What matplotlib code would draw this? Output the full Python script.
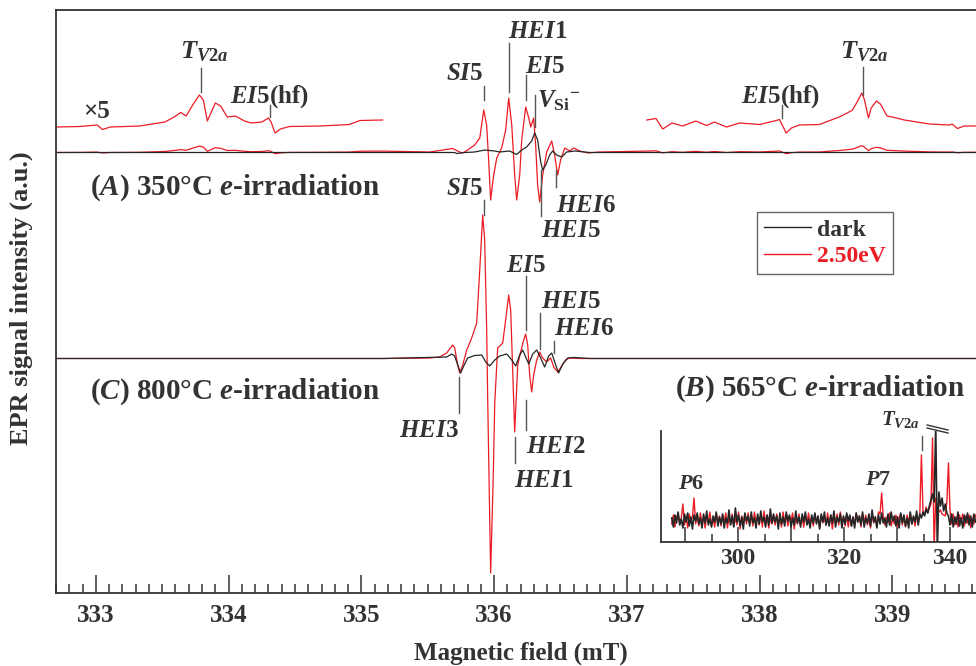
import matplotlib.pyplot as plt
from matplotlib.lines import Line2D
from matplotlib.ticker import MultipleLocator, FixedLocator, FuncFormatter
import numpy as np

plt.rcParams["font.family"] = ["Liberation Serif", "DejaVu Serif"]
plt.rcParams["font.weight"] = "bold"
plt.rcParams["axes.labelweight"] = "bold"
plt.rcParams["mathtext.fontset"] = "custom"
plt.rcParams["mathtext.rm"] = "Liberation Serif:bold"
plt.rcParams["mathtext.it"] = "Liberation Serif:italic:bold"
plt.rcParams["mathtext.bf"] = "Liberation Serif:bold"

RED = "#ec1c24"
BLACK = "#262626"
INK = "#333333"
GUIDE = "#555555"

# ---- (A) 350C, wings shown x5 (values in x5 units) ----
a_left_field = [332.70, 332.88, 333.01, 333.05, 333.11, 333.33, 333.52, 333.59,
                333.64, 333.68, 333.73, 333.78, 333.81, 333.84, 333.87, 333.90,
                333.94, 333.99, 334.05, 334.12, 334.17, 334.25, 334.30, 334.32,
                334.35, 334.39, 334.46, 334.69, 334.91, 334.99, 335.16]
a_left_x5 = [0, 0.5, 2, -2.5, 0, 1, 5, 10,
             14.5, 11, 22, 32, 27, 6, 15, 24,
             21, 10, 11, 6, 4, 5, 9, 5,
             -6, -2, 0.5, 1, 2.5, 6.5, 7]

a_right_field = [337.15, 337.22, 337.27, 337.34, 337.42, 337.52, 337.60, 337.66,
                 337.75, 337.85, 338.00, 338.11, 338.15, 338.20, 338.24, 338.30,
                 338.45, 338.60, 338.66, 338.70, 338.73, 338.77, 338.79, 338.82,
                 338.84, 338.88, 338.91, 338.96, 339.00, 339.09, 339.28, 339.43,
                 339.45, 339.49, 339.54, 339.63]
a_right_x5 = [7, 8.5, -2, 4, 1, 6, 1.5, 5,
              0, 4, 2.5, 6, 7.5, -6, -1, 2,
              2.5, 10, 14, 17, 24, 34, 27, 9,
              19, 26, 23, 11, 10, 7, 3, 2,
              3, -1.5, 1, 1]

# centre of (A), full scale
a_mid_field = [335.515, 335.688, 335.726, 335.756, 335.779, 335.854, 335.892, 335.922,
               335.944, 335.959, 335.974, 335.997, 336.020, 336.057, 336.087, 336.110,
               336.133, 336.155, 336.170, 336.193, 336.208, 336.238, 336.261, 336.276,
               336.298, 336.313, 336.328, 336.343, 336.366, 336.396, 336.434, 336.456,
               336.479, 336.501, 336.532, 336.569, 336.599, 336.645, 336.705, 336.795]
a_mid_light = [0.5, 4, 1.5, -0.5, 0.5, 7.5, 14.5, 42.5,
               27.5, -7.5, -47.5, -22.5, -5.5, 4.5, 22.5, 54.5,
               27.5, -22.5, -47.5, -22.5, 12.5, 45.5, 34.5, 25.5,
               34.5, 7.5, -32.5, -49.5, -22.5, 0.5, 11.5, -2.5,
               -22.5, -7.5, 4.5, 1.5, 4.5, 1.5, -0.5, 0.5]

a_dark_field = [332.70, 335.169, 335.703, 335.718, 335.779, 335.854, 335.929, 336.005,
                336.042, 336.117, 336.170, 336.208, 336.245, 336.283, 336.306, 336.328,
                336.351, 336.366, 336.389, 336.419, 336.441, 336.471, 336.509, 336.547,
                336.607, 336.720, 339.63]
a_dark = [0, 0, 0, -1, 0, 0.5, 2.5, 1.5,
          0.5, 1.5, -2, 2.5, 5.5, 11.5, 19.5, 12.5,
          -9.5, -17.5, -12.5, -2.5, 1.5, -2.5, -4.5, 0.5,
          1.5, 0, 0]

# ---- (C) 800C ----
c_light_field = [332.70, 335.169, 335.515, 335.590, 335.643, 335.688, 335.703, 335.726,
                 335.741, 335.764, 335.794, 335.831, 335.869, 335.892, 335.914, 335.929,
                 335.944, 335.952, 335.974, 335.993, 336.005, 336.027, 336.065, 336.087,
                 336.110, 336.125, 336.140, 336.155, 336.178, 336.200, 336.223, 336.238,
                 336.253, 336.268, 336.283, 336.298, 336.321, 336.343, 336.366, 336.396,
                 336.426, 336.449, 336.479, 336.509, 336.539, 336.569, 336.645, 339.63]
c_light = [0, 0, 0.5, 1.5, 5.5, 13.5, 10.5, -6.5,
           -14.5, -6.5, 8.5, 20.5, 35.5, 88.5, 143.5, 118.5,
           30, -42, -214.5, -121.5, -44, 10.5, 15.5, 38.5,
           63.5, 48.5, -11.5, -73.5, -6.5, 6.5, 18.5, 24.5,
           13.5, -16.5, -33.5, -16.5, -1.5, 6.5, 0.5, -3.5,
           0.5, -8.5, -13.5, -7.5, -1.5, 0.5, 0, 0]

c_dark_field = [332.70, 335.169, 335.643, 335.681, 335.703, 335.726, 335.748, 335.771,
                335.801, 335.854, 335.907, 335.937, 335.967, 336.005, 336.042, 336.095,
                336.133, 336.163, 336.193, 336.215, 336.238, 336.261, 336.291, 336.321,
                336.351, 336.381, 336.411, 336.434, 336.464, 336.486, 336.517, 336.554,
                336.607, 336.720, 339.63]
c_dark = [0, 0, 1.5, 4.5, 2.5, -6.5, -14.5, -7.5,
          0.5, 3, 3.5, -3.5, -7.5, -1.5, 2.5, 4.5,
          -1.5, -7.5, 3.5, 8.5, 1.5, -5.5, 4.5, 8.5,
          0.5, -8.5, 2.5, 5.5, -6.5, -14.5, -5.5, 0.5,
          1, 0, 0]

# ---- (B) 565C inset, wide sweep 287.5 ... 344.8 mT in 0.3 mT steps ----
b_start, b_stop = 287.5, 344.8
b_dark = [2, -7, 5, -3, 8, -5, 1, -8, 6, -2, 7, -6, 3, -9, 5, -1,
          7, -4, 2, -8, 6, -3, 9, -5, 1, -7, 4, -2, 8, -6, 3, -4,
          6, -8, 2, -3, 10, -5, 4, -7, 12, -2, 5, -6, 3, -9, 7, -1,
          4, -6, 8, -3, 2, -8, 6, -4, 9, -2, 3, -7, 5, -5, 11, -3,
          6, -2, 4, -9, 7, -4, 3, -6, 8, -1, 5, -7, 2, -5, 9, -3,
          3, -7, 6, -2, 8, -5, 1, -8, 5, -3, 7, -4, 4, -9, 6, -2,
          8, -5, 2, -6, 5, -3, 9, -7, 3, -2, 6, -8, 4, -4, 7, -1,
          5, -6, 3, -8, 7, -2, 4, -5, 8, -7, 2, -3, 6, -6, 10, -2,
          3, -8, 5, -4, 7, -3, 2, -7, 6, -5, 8, -1, 4, -6, 3, -8,
          7, -3, 5, -6, 2, -8, 8, -4, 4, -2, 9, -5, 6, 2, 8, 4,
          11, 7, 14, 20, 26, 18, 95, -30, 28, 14, 22, 9, 16, 7, 4, -5,
          6, -7, 3, -4, 8, -6, 2, -8, 5, -3, 7, -5, 4, -7, 6, -2]
b_light = [-4, 5, -7, 3, 6, -3, 2, 16, -5, 4, -8, 6, -2, 3, 22, -4,
           4, -6, 7, -3, 2, -8, 5, -2, 8, -5, 1, -7, 6, -3, 4, -6,
           5, -2, 7, -8, 3, -4, 6, -6, 2, -5, 8, -9, 4, -2, 6, -4,
           7, -3, 4, -6, 8, -2, 3, -5, 6, -7, 9, -2, 5, -8, 2, -4,
           3, -5, 6, -3, 2, -7, 8, -2, 5, -6, 4, -1, 7, -9, 3, -4,
           6, -5, 2, -7, 5, -3, 7, -4, 3, -6, 6, -2, 4, -8, 5, -3,
           2, -5, 7, -4, 5, -9, 4, -2, 6, -5, 8, -3, 3, -6, 5, -7,
           4, -6, 3, -4, 7, -2, 4, -7, 6, -3, 5, -5, 2, -8, 6, -3,
           3, -7, 8, 6, 27, 4, -5, 3, -2, 7, -6, 2, -4, 5, -7, 3,
           6, -5, 4, -7, 5, -2, 7, -4, 3, -6, 5, -3, 6, 65, 9, 5,
           13, 7, 12, 16, 82, -30, 22, 12, 8, 10, 6, 5, 4, 18, 57, 9,
           -4, 6, -5, 3, -7, 5, -2, 6, -6, 4, -3, 5, -8, 2, -4, 5]
b_field = np.linspace(b_start, b_stop, len(b_dark))

main_ticks = [333, 334, 335, 336, 337, 338, 339]
inset_ticks = [290, 300, 310, 320, 330, 340]
inset_labelled = [300, 320, 340]

# vertical offsets of the stacked traces (axis units = pixels)
BASE_A = 440.5
BASE_X5 = 466.0
BASE_C = 234.5

fig = plt.figure(figsize=(9.76, 6.66), dpi=100)
ax = fig.add_axes([56 / 976, 73 / 666, 920 / 976, 583 / 666])

# (A) full-scale traces
a_field = a_left_field + a_mid_field + a_right_field
a_light = ([v / 5 for v in a_left_x5] + a_mid_light + [v / 5 for v in a_right_x5])
ax.plot(a_field, np.array(a_light) + BASE_A, color=RED, lw=0.9)
ax.plot(a_dark_field, np.array(a_dark) + BASE_A, color=BLACK, lw=0.9)
# x5 wings
ax.plot(a_left_field, np.array(a_left_x5) + BASE_X5, color=RED, lw=0.9)
ax.plot(a_right_field, np.array(a_right_x5) + BASE_X5, color=RED, lw=0.9)

# (C)
ax.plot(c_light_field, np.array(c_light) + BASE_C, color=RED, lw=0.9)
ax.plot(c_dark_field, np.array(c_dark) + BASE_C, color=BLACK, lw=0.9)

ax.set_xlim(332.70, 339.63)
ax.set_ylim(0, 583)
ax.set_yticks([])
ax.xaxis.set_major_locator(FixedLocator(main_ticks))
ax.xaxis.set_minor_locator(MultipleLocator(0.1))
ax.tick_params(axis="x", which="major", direction="in", length=13, width=1.1,
               color=INK, labelsize=18, labelcolor=INK, pad=8, top=False)
ax.tick_params(axis="x", which="minor", direction="in", length=6.5, width=1.1,
               color=INK, top=False)
ax.spines["right"].set_visible(False)
for s in ["left", "top", "bottom"]:
    ax.spines[s].set_color(INK)
    ax.spines[s].set_linewidth(1.3)

ax.set_xlabel("Magnetic field (mT)", fontsize=18, color=INK)
ax.xaxis.set_label_coords(0.505, -0.084)
ax.set_ylabel("EPR signal intensity (a.u.)", fontsize=19, color=INK)
ax.yaxis.set_label_coords(-0.025, 0.506)

# peak labels: (text, x, baseline y, size, ha)
labels = [
    (r"$T_{V2a}$", 333.813, 535, 19, "center"),
    (r"$EI$5(hf)", 334.31, 490, 18, "center"),
    ("×5", 333.008, 475, 18, "center"),
    (r"$EI$5(hf)", 338.16, 490, 18, "center"),
    (r"$T_{V2a}$", 338.79, 535, 19, "center"),
    (r"$SI$5", 335.779, 513, 18, "center"),
    (r"$HEI$1", 336.328, 555, 18, "center"),
    (r"$EI$5", 336.381, 520, 18, "center"),
    (r"$V_{\mathrm{Si}}{}^{-}$", 336.321, 486, 18, "left"),
    (r"$SI$5", 335.779, 398, 18, "center"),
    (r"$HEI$6", 336.690, 381, 18, "center"),
    (r"$HEI$5", 336.577, 356, 18, "center"),
    (r"$EI$5", 336.238, 321, 18, "center"),
    (r"$HEI$5", 336.577, 285, 18, "center"),
    (r"$HEI$6", 336.675, 258, 18, "center"),
    (r"$HEI$3", 335.508, 156, 18, "center"),
    (r"$HEI$2", 336.464, 140, 18, "center"),
    (r"$HEI$1", 336.373, 106, 18, "center"),
]
for txt, x, y, size, ha in labels:
    ax.text(x, y, txt, fontsize=size, ha=ha, va="baseline", color=INK)

# guide lines from labels to peaks: (x, y0, y1)
guides = [
    (333.79, 501, 525), (334.31, 476, 488), (338.166, 475, 488), (338.776, 498, 526),
    (335.922, 493, 507), (336.110, 501, 550), (336.238, 493, 518), (336.306, 466, 498),
    (335.922, 378, 393), (336.464, 406, 423), (336.35, 377, 423),
    (336.238, 263, 317), (336.343, 244, 280), (336.449, 240, 252),
    (335.733, 180, 216), (336.238, 163, 193), (336.155, 130, 156),
]
for x, y0, y1 in guides:
    ax.plot([x, x], [y0, y1], color=GUIDE, lw=1.0)

ax.text(332.955, 398, r"($A$) 350°C $e$-irradiation", fontsize=21, color=INK, va="baseline")
ax.text(332.955, 194, r"($C$) 800°C $e$-irradiation", fontsize=21, color=INK, va="baseline")
ax.text(337.36, 197, r"($B$) 565°C $e$-irradiation", fontsize=21, color=INK, va="baseline")

handles = [Line2D([], [], color=BLACK, lw=1.0), Line2D([], [], color=RED, lw=1.0)]
leg = ax.legend(handles, ["dark", "2.50eV"], loc="upper left",
                bbox_to_anchor=(757 / 976, 1 - 212 / 666), bbox_transform=fig.transFigure,
                borderaxespad=0, fancybox=False, framealpha=1, edgecolor="#666666",
                fontsize=17, handlelength=2.0, handletextpad=0.25, labelspacing=0.2,
                borderpad=0.3)
leg.get_frame().set_linewidth(1.0)
leg.get_texts()[0].set_color(INK)
leg.get_texts()[1].set_color(RED)

# ---- inset (B) ----
axi = fig.add_axes([661 / 976, 124 / 666, 315 / 976, 111 / 666])
axi.patch.set_alpha(0)
axi.plot(b_field, b_light, color=RED, lw=1.0)
axi.plot(b_field, b_dark, color=BLACK, lw=1.2)
axi.set_xlim(285.47, 344.9)
axi.set_ylim(-22, 89)
axi.set_yticks([])
axi.xaxis.set_major_locator(FixedLocator(inset_ticks))
axi.xaxis.set_minor_locator(MultipleLocator(5))
axi.xaxis.set_major_formatter(FuncFormatter(lambda v, p: f"{v:.0f}" if round(v) in inset_labelled else ""))
axi.tick_params(axis="x", which="major", direction="in", length=11, width=1.1,
                color=INK, labelsize=17, labelcolor=INK, pad=4)
axi.tick_params(axis="x", which="minor", direction="in", length=6, width=1.1, color=INK)
for s in ["right", "top"]:
    axi.spines[s].set_visible(False)
for s in ["left", "bottom"]:
    axi.spines[s].set_color(INK)
    axi.spines[s].set_linewidth(1.3)

axi.text(291.2, 31, r"$P$6", fontsize=16, ha="center", va="baseline", color=INK)
axi.text(326.5, 35, r"$P$7", fontsize=16, ha="center", va="baseline", color=INK)
axi.text(330.57, 95, r"$T_{V2a}$", fontsize=15, ha="center", va="baseline", color=INK,
         clip_on=False)
axi.plot([334.72, 334.72], [70, 84], color=GUIDE, lw=1.0, clip_on=False)
axi.plot([335.66, 339.62], [95, 90], color=INK, lw=1.0, clip_on=False)
axi.plot([335.66, 339.62], [92, 87], color=INK, lw=1.0, clip_on=False)

fig.savefig("out.png", dpi=100)
